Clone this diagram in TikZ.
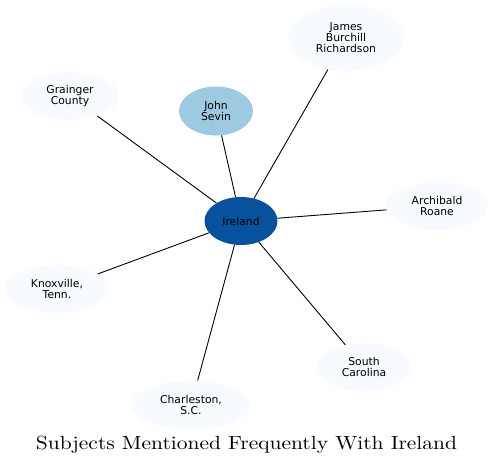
\documentclass[tikz,border=0pt]{standalone}
\usepackage{fontspec}
\newfontfamily\nodefont{DejaVu Sans}
\newfontfamily\titlefont{lmroman10-regular.otf}
\usetikzlibrary{shapes.geometric}
\definecolor{hub}{HTML}{08519C}
\definecolor{mid}{HTML}{9ECAE1}
\definecolor{pale}{HTML}{F7FBFF}
\tikzset{
  bubble/.style={ellipse, inner sep=0pt, align=center, font=\nodefont\fontsize{10.8}{11}\selectfont, text=black},
  link/.style={draw=black, line width=0.9pt}
}
\begin{document}
\begin{tikzpicture}[x=1pt,y=-1pt]
\useasboundingbox (0,0) rectangle (494,466);
\node[bubble, fill=hub, minimum width=73pt, minimum height=48pt] (ire) at (241,221) {Ireland};
\node[bubble, fill=mid, minimum width=74pt, minimum height=49pt] (sev) at (216,111) {John\\Sevin};
\node[bubble, fill=pale, minimum width=116pt, minimum height=66pt] (jbr) at (346,38) {James\\Burchill\\Richardson};
\node[bubble, fill=pale, minimum width=97pt, minimum height=48pt] (gra) at (70,96) {Grainger\\County};
\node[bubble, fill=pale, minimum width=102pt, minimum height=48pt] (arc) at (437,206) {Archibald\\Roane};
\node[bubble, fill=pale, minimum width=104pt, minimum height=48pt] (kno) at (57,289) {Knoxville,\\Tenn.};
\node[bubble, fill=pale, minimum width=119pt, minimum height=49pt] (cha) at (191,405) {Charleston,\\S.C.};
\node[bubble, fill=pale, minimum width=94pt, minimum height=48pt] (sca) at (364,367) {South\\Carolina};
\foreach \n in {sev,jbr,gra,arc,kno,cha,sca} \draw[link] (ire) -- (\n);
\node[font=\titlefont\fontsize{19}{22}\selectfont, anchor=base, xscale=1.13, inner sep=0pt] (title) at (246.5,449) {Subjects Mentioned Frequently With Ireland};
\end{tikzpicture}
\end{document}
